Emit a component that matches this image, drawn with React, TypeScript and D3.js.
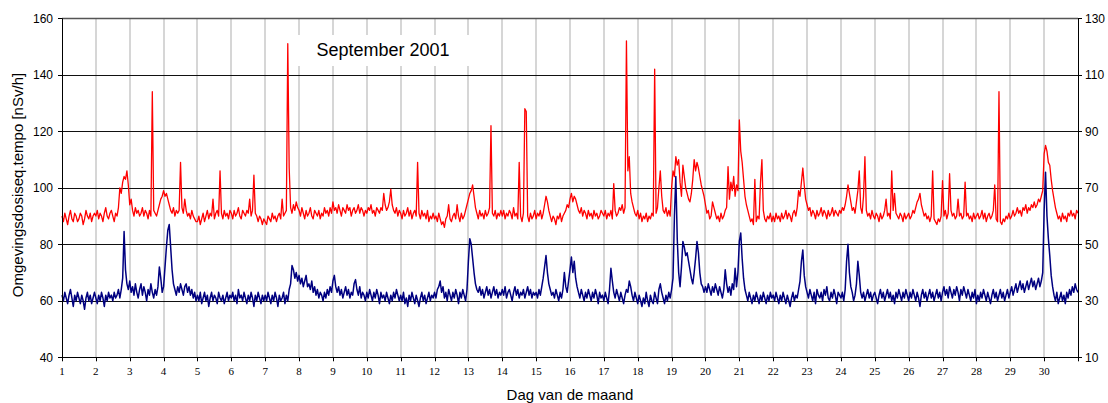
import React from 'react';
import * as d3 from 'd3';

// Hourly readings (left axis, nSv/h), one row per day of September 2001
const redDays: number[][] = [
  [90,88,91,89,87,90,92,89,88,91,90,88,89,91,90,87,89,92,90,89,91,88,90,91],
  [90,92,89,91,90,88,91,93,90,89,91,92,90,88,91,90,93,100,98,102,104,103,106,101],
  [94,96,92,90,93,91,92,90,91,93,90,92,91,89,92,90,134,92,91,90,92,94,96,97],
  [99,97,98,96,94,92,91,93,90,92,91,92,109,93,91,96,92,90,91,89,92,90,89,88],
  [88,90,87,89,91,88,90,92,89,91,90,96,89,91,92,90,106,91,89,92,90,91,89,92],
  [91,89,92,90,91,93,90,89,92,91,90,92,91,96,90,92,104.5,91,90,88,90,89,87,89],
  [88,87,90,89,88,91,89,90,88,90,91,89,96,90,91,92,151,107,93,91,94,92,95,93],
  [92,90,93,91,89,92,90,91,93,90,89,92,91,90,92,89,91,90,93,91,92,90,93,91],
  [95,92,93,91,94,92,90,93,92,91,94,92,93,90,92,93,91,92,94,91,93,92,90,92],
  [91,93,92,94,91,92,90,93,92,91,93,92,98,94,92,93,95,99.5,94,92,91,93,90,92],
  [91,89,92,90,91,93,90,92,89,91,92,90,109,91,89,92,90,91,89,92,88,90,89,91],
  [89,90,88,91,89,87,88,86,89,90,94,89,88,90,91,89,94,90,88,91,89,90,92,94],
  [96,98,99,101,97,93,91,89,92,90,91,89,92,90,91,93,122,91,90,92,89,91,90,92],
  [90,92,89,91,90,92,91,89,93,90,91,89,109,90,88,91,128,127,90,88,91,89,90,92],
  [89,91,90,92,89,91,94,97,95,92,90,88,90,89,87,90,89,91,88,90,91,92,94,93],
  [96,98,95,97,96,94,92,91,93,90,92,91,89,92,90,91,89,92,90,91,89,90,92,91],
  [90,92,89,91,90,92,89,101.5,92,90,91,93,92,94,91,93,152,106,111,98,95,93,91,90],
  [92,89,91,88,90,89,91,88,90,89,91,90,142,91,93,100,106,97,92,91,93,90,92,90],
  [100,106,104,111,108,110,102,97,108,104,100,98,96,95,98,103,110,106,109,107,104,101,99,97],
  [94,91,92,89,90,95,93,91,89,90,88,91,89,90,92,93,107.5,96,102,99,104,97,101,99],
  [124,113,109,103,97,94,92,90,88,89,87,103,88,90,89,102,110,92,89,88,90,89,91,88],
  [90,88,91,89,90,88,91,89,90,92,89,91,90,88,91,92,90,93,99,97,102,107,101,96],
  [94,92,93,90,92,91,89,92,90,91,93,90,92,91,89,92,90,91,93,90,92,91,90,92],
  [91,93,92,94,97,101,98,95,92,93,91,95,99,106,93,91,97,111,92,90,91,89,92,90],
  [89,91,90,88,91,89,90,92,96,90,91,89,106,92,98,91,90,89,91,90,88,91,89,90],
  [91,89,90,92,91,93,95,96,98,94,92,90,91,89,90,88,90,106,89,88,87,89,88,90],
  [102.5,90,92,89,91,105,92,90,91,89,90,96,90,91,89,90,102,90,91,89,90,88,91,89],
  [90,91,89,90,92,89,91,88,90,91,89,90,92,101,89,88,134,88,87,89,88,90,89,91],
  [89,90,92,90,91,93,91,92,90,93,92,94,91,93,92,94,93,95,93,94,96,95,97,99],
  [112,115,113,109,108,103,99,96,93,91,89,90,88,91,89,90,88,91,90,92,90,91,89,92],
];
const redLast = 91;

// Hourly readings (right axis), one row per day
const blueDays: number[][] = [
  [32,30,33,31,29,32,34,31,28,32,30,33,31,29,32,30,27,31,33,30,32,29,31,33],
  [31,29,32,30,33,31,28,32,30,33,31,32,30,33,31,32,34,31,34,38,54.5,41,36,34],
  [37,33,35,32,36,33,31,34,36,32,35,33,30,34,32,36,33,31,34,32,35,42,38,33],
  [35,42,49,55,57,49,41,36,34,32,35,33,36,34,32,35,36,33,35,32,34,31,33,30],
  [32,30,33,29,31,33,30,32,28,31,33,30,32,31,29,33,31,30,32,29,31,33,30,32],
  [31,33,30,32,29,34,31,32,30,33,31,29,32,30,33,31,28,32,30,33,31,29,32,30],
  [32,30,33,31,29,32,30,33,31,28,32,30,31,33,29,32,30,34,36,42.5,41,38,40,37],
  [39,36,38,35,37,39,35,36,34,37,33,35,32,34,31,33,32,30,33,31,34,32,35,33],
  [37,39,35,33,35,32,34,31,33,35,32,34,31,33,32,36,37.5,34,32,35,31,33,32,30],
  [33,31,34,32,30,33,31,34,32,29,33,31,32,30,33,31,29,32,30,33,31,34,32,30],
  [32,30,33,29,31,28,32,30,33,31,29,32,30,28,31,33,30,32,29,31,33,30,32,31],
  [33,31,34,35,37,33,35,31,33,30,34,32,30,33,31,34,32,29,33,31,34,32,30,34],
  [44,52,50,45,40,36,34,33,35,32,34,31,33,35,32,34,31,33,35,32,34,31,33,32],
  [34,32,35,31,33,34,32,30,33,35,32,34,31,33,32,34,31,33,35,32,34,31,33,32],
  [33,31,34,32,35,38,42,46,40,36,34,32,33,31,34,32,30,33,31,34,40,35,33,37],
  [41,45.5,40,44,38,35,33,31,34,32,30,33,31,34,32,30,33,31,34,32,29,33,31,32],
  [30,33,31,29,34,41.5,37,33,31,34,32,30,33,31,29,32,34,33,37,35,32,30,33,31],
  [29,32,30,28,31,29,33,30,28,32,30,29,33,31,29,34,36,33,31,29,32,30,33,31],
  [34,38,60,74,52,40,35,42,51,49,46,47,44,41,38,36,40,45,51,47,40,36,35,33],
  [35,33,36,34,32,35,33,36,34,32,35,33,31,34,41,36,33,35,32,36,34,41.5,35,40],
  [51,54,45,38,34,32,30,33,31,29,32,30,33,31,29,32,30,33,31,29,32,30,33,31],
  [32,30,33,31,29,32,30,33,31,29,32,30,28,31,33,30,32,31,34,37,44,48,39,35],
  [33,31,34,32,30,33,29,34,32,31,33,30,34,32,35,31,30,33,31,34,32,29,33,32],
  [31,33,30,34,44,50,40,35,33,30,32,36,44,39,33,31,33,30,32,34,31,33,30,32],
  [33,31,29,32,34,31,33,30,32,34,31,33,30,32,29,33,31,34,32,30,33,31,34,32],
  [30,33,31,34,32,30,33,31,28,32,34,31,33,30,32,34,31,33,30,32,34,31,33,30],
  [33,35,32,34,31,35,33,31,34,32,35,33,30,34,32,35,33,31,34,32,30,33,31,34],
  [29,32,30,33,31,34,32,30,33,31,29,32,34,31,33,30,32,34,31,33,30,32,34,31],
  [33,35,32,34,36,33,35,37,34,36,33,35,37,34,36,38,35,37,34,36,38,35,37,40],
  [62,75.5,60,52,46,39,35,32,30,33,29,31,33,30,32,29,33,31,34,32,35,33,36,34],
];
const blueLast = 33;

const dayLabels = d3.range(1, 31);
const leftTicks = [40, 60, 80, 100, 120, 140, 160];
const rightTicks = [10, 30, 50, 70, 90, 110, 130];
const title = 'September 2001';
const yTitle = 'Omgevingsdosiseq.tempo [nSv/h]';
const xTitle = 'Dag van de maand';

const SANS = '"Liberation Sans", Arial, sans-serif';
const SERIF = '"Liberation Serif", "Times New Roman", serif';

export default function App() {
  const L = 62, R = 1078, T = 18.3, B = 357.3;
  const x = d3.scaleLinear().domain([1, 31]).range([L, R]);
  const yL = d3.scaleLinear().domain([40, 160]).range([B, T]);
  const yR = d3.scaleLinear().domain([10, 130]).range([B, T]);

  const red = [...redDays.flat(), redLast];
  const blue = [...blueDays.flat(), blueLast];
  const redPath = d3.line<number>().x((_, i) => x(1 + i / 24)).y(d => yL(d))(red) || '';
  const bluePath = d3.line<number>().x((_, i) => x(1 + i / 24)).y(d => yR(d))(blue) || '';

  const vGrid = d3.range(2, 31);
  const hGrid = [60, 80, 100, 120, 140];

  return (
    <svg width={1108} height={403} style={{ position: 'absolute', left: 0, top: 0, background: '#fff' }}>
      <rect x={0} y={0} width={1108} height={403} fill="#fff" />
      {vGrid.map(d => (
        <line key={'v' + d} x1={Math.round(x(d))} x2={Math.round(x(d))} y1={T} y2={B} stroke="#d6d6d6" strokeWidth={2} />
      ))}
      {hGrid.map(v => (
        <line key={'h' + v} x1={L} x2={R} y1={Math.round(yL(v)) + 0.5} y2={Math.round(yL(v)) + 0.5} stroke="#111" strokeWidth={1} />
      ))}
      <line x1={L} x2={R} y1={Math.round(T) + 0.5} y2={Math.round(T) + 0.5} stroke="#555" strokeWidth={1.5} />
      <rect x={294} y={35} width={182} height={31} fill="#fff" />
      <text x={383} y={56} fontFamily={SANS} fontSize={18} textAnchor="middle" fill="#000">{title}</text>

      <path d={redPath} fill="none" stroke="#ff0000" strokeWidth={1.3} strokeLinejoin="round" />
      <path d={bluePath} fill="none" stroke="#000080" strokeWidth={1.5} strokeLinejoin="round" />

      {/* axes */}
      <line x1={L + 0.5} x2={L + 0.5} y1={T} y2={B} stroke="#000" strokeWidth={1} />
      <line x1={R + 0.5} x2={R + 0.5} y1={T} y2={B} stroke="#000" strokeWidth={1} />
      <line x1={L} x2={R} y1={Math.round(B) + 0.5} y2={Math.round(B) + 0.5} stroke="#000" strokeWidth={1} />
      {leftTicks.map(v => (
        <g key={'lt' + v}>
          <line x1={L - 4} x2={L} y1={Math.round(yL(v)) + 0.5} y2={Math.round(yL(v)) + 0.5} stroke="#000" />
          <text x={53} y={yL(v)} dy="0.36em" fontFamily={SANS} fontSize={12} textAnchor="end" fill="#000">{v}</text>
        </g>
      ))}
      {rightTicks.map(v => (
        <g key={'rt' + v}>
          <line x1={R} x2={R + 4} y1={Math.round(yR(v)) + 0.5} y2={Math.round(yR(v)) + 0.5} stroke="#000" />
          <text x={1085} y={yR(v)} dy="0.36em" fontFamily={SANS} fontSize={12} textAnchor="start" fill="#000">{v}</text>
        </g>
      ))}
      {d3.range(1, 32).map(d => (
        <line key={'xt' + d} x1={Math.round(x(d)) + 0.5} x2={Math.round(x(d)) + 0.5} y1={B} y2={B + 4} stroke="#000" />
      ))}
      {dayLabels.map(d => (
        <text key={'xl' + d} x={x(d)} y={375} fontFamily={SERIF} fontSize={11} textAnchor="middle" fill="#000">{d}</text>
      ))}
      <text transform={`translate(23,${185}) rotate(-90)`} fontFamily={SANS} fontSize={15} textAnchor="middle" fill="#000">{yTitle}</text>
      <text x={570} y={400} fontFamily={SANS} fontSize={15} textAnchor="middle" fill="#000">{xTitle}</text>
    </svg>
  );
}
